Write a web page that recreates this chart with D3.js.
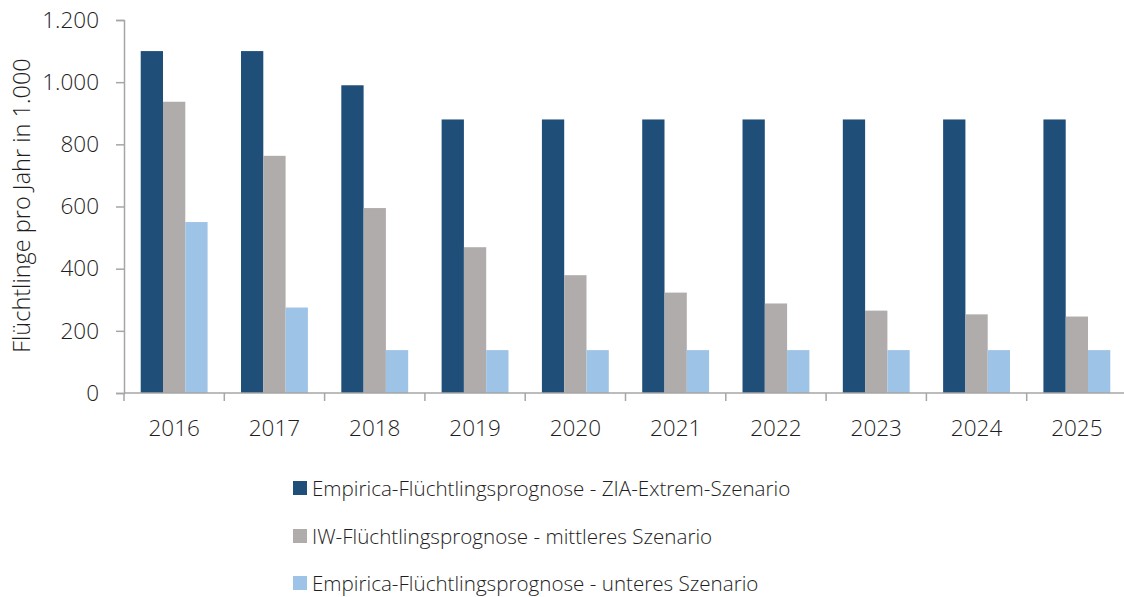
<!DOCTYPE html>
<html>
<head>
<meta charset="utf-8">
<script src="https://cdn.jsdelivr.net/npm/d3@7"></script>
<style>
  html, body { margin: 0; padding: 0; background: #fff; }
  svg text { font-family: "Open Sans", "Noto Sans", sans-serif; font-weight: 350; fill: #1e1e1e; }
</style>
</head>
<body>
<svg id="chart" width="1124" height="597"></svg>
<script>
// Refugee forecasts per year (in thousands)
const years = ["2016","2017","2018","2019","2020","2021","2022","2023","2024","2025"];
const seriesNames = [
  "Empirica-Flüchtlingsprognose - ZIA-Extrem-Szenario",
  "IW-Flüchtlingsprognose - mittleres Szenario",
  "Empirica-Flüchtlingsprognose - unteres Szenario"
];
const extremValues = [1100, 1100, 990, 880, 880, 880, 880, 880, 880, 880];
const mittelValues = [937, 763, 595, 469, 379, 323, 288, 265, 253, 246];
const unteresValues = [550, 275, 138, 138, 138, 138, 138, 138, 138, 138];
const seriesColors = ["#1F4E79", "#AFACAB", "#9DC3E6"];
const yTicks = [0, 200, 400, 600, 800, 1000, 1200];
const yTitle = "Flüchtlinge pro Jahr in 1.000";

const seriesValues = [extremValues, mittelValues, unteresValues];
const rows = years.map((y, i) => ({ year: y, values: seriesValues.map(s => s[i]) }));

const svg = d3.select("#chart");
const plot = { left: 124, right: 1127, top: 20, bottom: 393 };
const axisColor = "#a6a6a6";

const x0 = d3.scaleBand().domain(years).range([plot.left, plot.right])
  .paddingInner(1/3).paddingOuter(1/6);
const x1 = d3.scaleBand().domain(d3.range(seriesNames.length)).range([0, x0.bandwidth()]);
const y = d3.scaleLinear().domain([0, 1200]).range([plot.bottom, plot.top]);

const fmt = d3.formatLocale({ decimal: ",", thousands: ".", grouping: [3], currency: ["", " €"] }).format(",d");

// Bars
svg.append("g").selectAll("g").data(rows).join("g")
  .attr("transform", d => `translate(${x0(d.year)},0)`)
  .selectAll("rect").data(d => d.values.map((v, k) => ({ v, k }))).join("rect")
  .attr("x", d => x1(d.k))
  .attr("width", x1.bandwidth())
  .attr("y", d => y(d.v))
  .attr("height", d => y(0) - y(d.v))
  .attr("fill", d => seriesColors[d.k]);

// Y axis
const yAxis = svg.append("g").attr("transform", `translate(${plot.left},0)`)
  .call(d3.axisLeft(y).tickValues(yTicks).tickFormat(fmt).tickSize(8).tickPadding(17));
yAxis.select(".domain").attr("stroke", axisColor).attr("stroke-width", 1.5);
yAxis.selectAll(".tick line").attr("stroke", axisColor).attr("stroke-width", 1.5);
yAxis.selectAll("text").attr("font-size", 22.5).attr("fill", "#1e1e1e")
  .style("font-family", '"Open Sans", sans-serif').style("font-weight", 350);

// X axis: ticks at category boundaries
const step = x0.step();
const boundaries = d3.range(years.length).map(i => plot.left + i * step);
const xAxisG = svg.append("g");
xAxisG.append("line")
  .attr("x1", plot.left).attr("x2", plot.right)
  .attr("y1", y(0)).attr("y2", y(0))
  .attr("stroke", axisColor).attr("stroke-width", 1.5);
xAxisG.selectAll("line.tk").data(boundaries).join("line").attr("class", "tk")
  .attr("x1", d => d).attr("x2", d => d)
  .attr("y1", y(0)).attr("y2", y(0) + 8)
  .attr("stroke", axisColor).attr("stroke-width", 1.5);
xAxisG.selectAll("text").data(years).join("text")
  .attr("x", d => x0(d) + x0.bandwidth() / 2)
  .attr("y", y(0) + 43)
  .attr("text-anchor", "middle")
  .attr("font-size", 22.5)
  .text(d => d);

// Y axis title
svg.append("text")
  .attr("transform", `translate(30,${(plot.top + plot.bottom) / 2 - 1}) rotate(-90)`)
  .attr("text-anchor", "middle")
  .attr("font-size", 23.5)
  .text(yTitle);

// Legend
const legend = svg.append("g").attr("transform", "translate(293,0)");
const legendRows = [488, 536, 583];
seriesNames.forEach((name, k) => {
  const g = legend.append("g").attr("transform", `translate(0,${legendRows[k]})`);
  g.append("rect").attr("x", 0).attr("y", -7).attr("width", 14).attr("height", 14)
    .attr("fill", seriesColors[k]);
  g.append("text").attr("x", 19).attr("y", 7.5).attr("font-size", 20.6).text(name);
});
</script>
</body>
</html>
